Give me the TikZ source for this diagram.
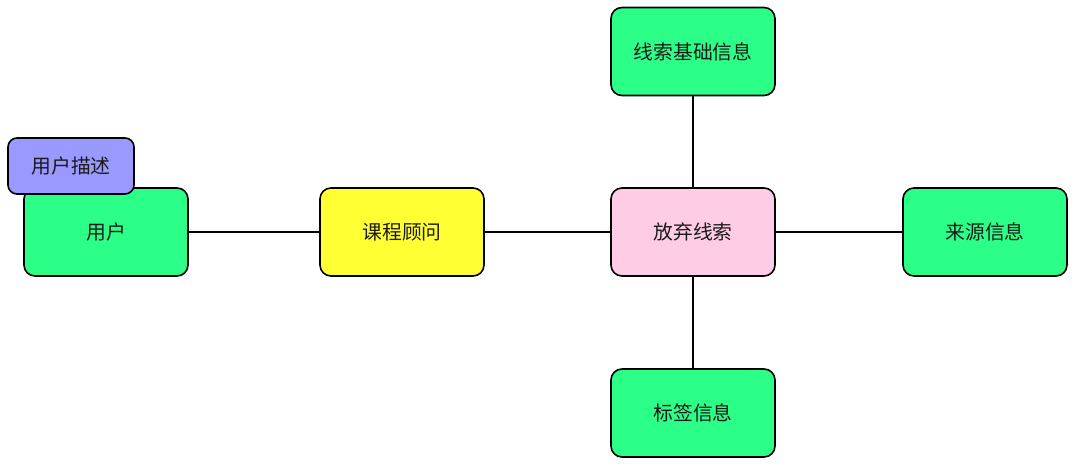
\documentclass[tikz,border=0pt]{standalone}
\usepackage{fontspec}
\setmainfont{Noto Sans CJK SC}
\definecolor{boxgreen}{HTML}{2BFF88}
\definecolor{boxpink}{HTML}{FFCCE6}
\definecolor{boxyellow}{HTML}{FFFF33}
\definecolor{boxpurple}{HTML}{9999FF}
\definecolor{txt}{HTML}{1A1A1A}
\tikzset{
  box/.style={draw=black, line width=1.6pt, rounded corners=11pt, minimum width=164pt, minimum height=88pt, inner sep=0pt, font=\fontsize{19.8}{24}\selectfont, text=txt},
  small/.style={box, minimum width=126pt, minimum height=56pt, rounded corners=9pt},
  link/.style={draw=black, line width=1.6pt}
}
\begin{document}
\begin{tikzpicture}[x=1pt,y=-1pt]
\useasboundingbox[fill=white] (0,0) rectangle (1079,468);
\node[box, fill=boxgreen] (user) at (106,232) {用户};
\node[small, fill=boxpurple] (desc) at (71,166) {用户描述};
\node[box, fill=boxyellow] (adv) at (402,232) {课程顾问};
\node[box, fill=boxpink] (drop) at (693,232) {放弃线索};
\node[box, fill=boxgreen] (base) at (693,51.5) {线索基础信息};
\node[box, fill=boxgreen] (src) at (985,232) {来源信息};
\node[box, fill=boxgreen] (tag) at (693,413) {标签信息};
\draw[link] (user) -- (adv);
\draw[link] (adv) -- (drop);
\draw[link] (drop) -- (base);
\draw[link] (drop) -- (tag);
\draw[link] (drop) -- (src);
\end{tikzpicture}
\end{document}
